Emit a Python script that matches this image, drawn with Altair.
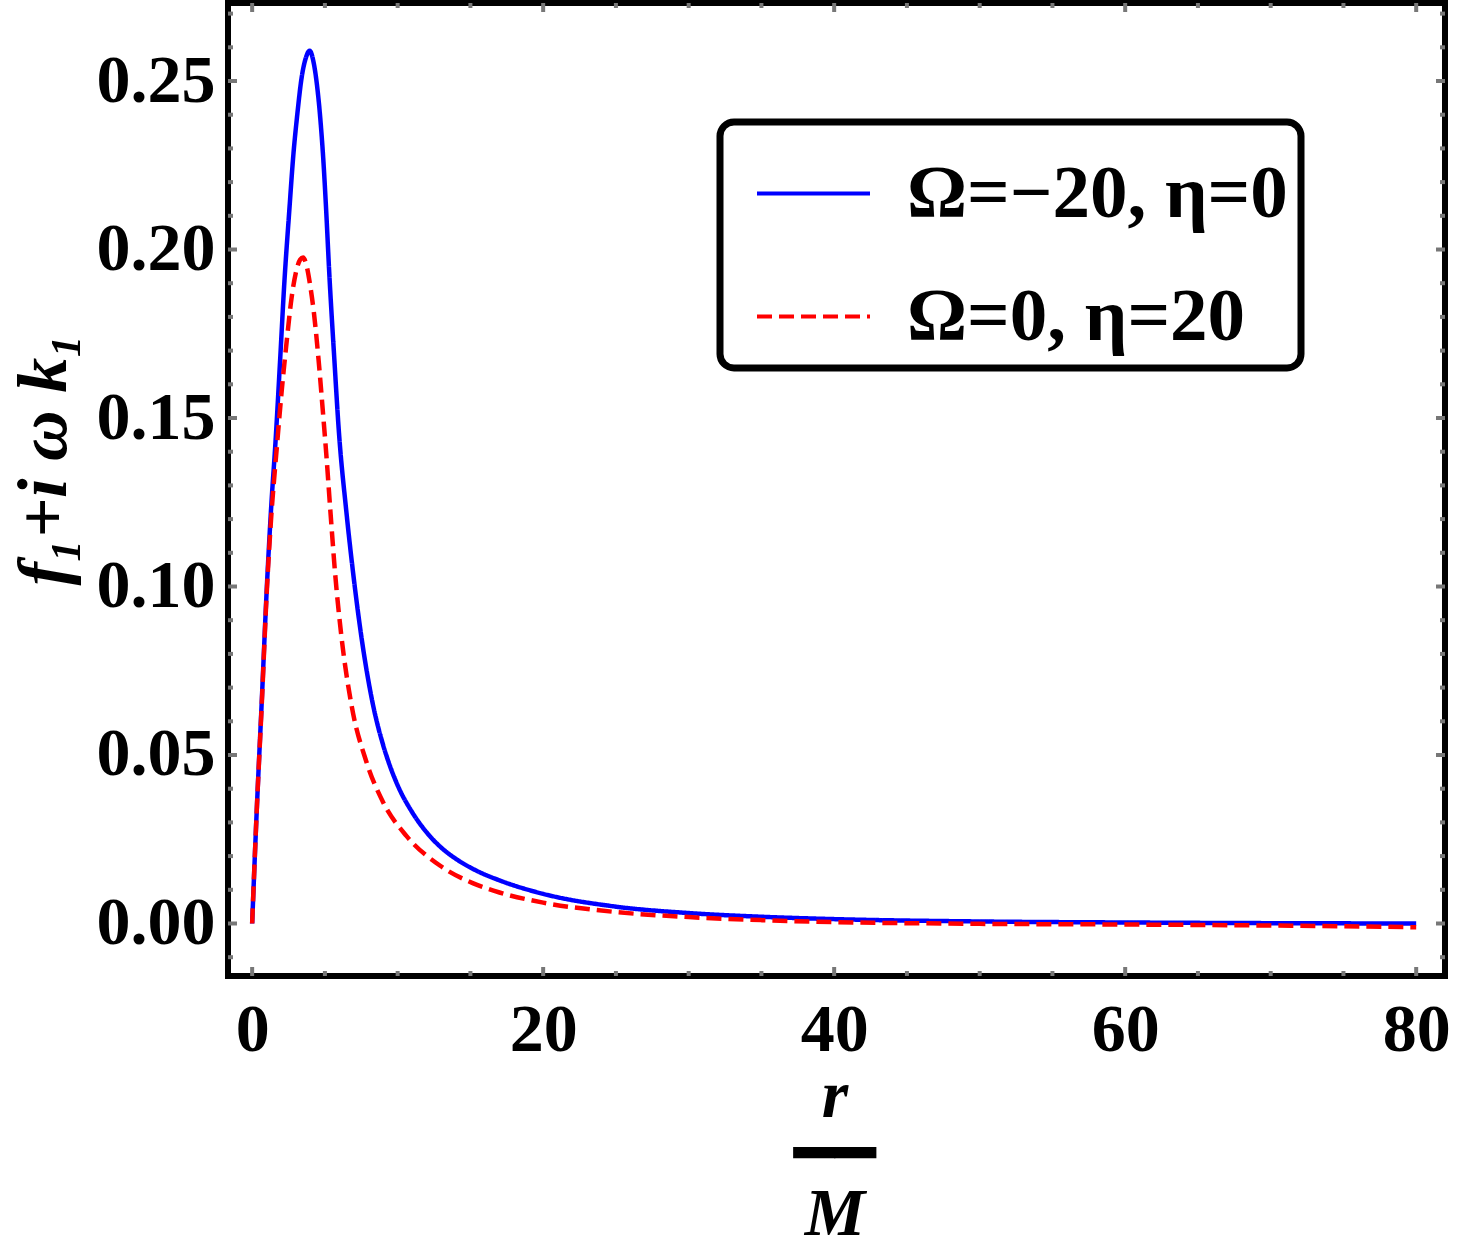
import altair as alt
import pandas as pd

# r/M samples and profile values for the two parameter sets
r_blue = [0, 0.32, 0.66, 1.0, 1.3, 1.62, 1.92, 2.21, 2.56, 2.83, 3.1, 3.4, 3.7, 3.95,
          4.2, 4.45, 4.7, 4.9, 5.07, 5.3, 5.64, 5.96, 6.48, 6.94, 7.51, 8.3, 9.0, 9.45,
          10.0, 11.0, 12.0, 13.0, 14.0, 15.5, 17, 20, 25, 30, 35, 40, 50, 60, 70, 80]
f_blue = [0, 0.034, 0.066, 0.099, 0.123, 0.144, 0.167, 0.190, 0.212, 0.228, 0.240,
          0.251, 0.257, 0.2590, 0.256, 0.249, 0.238, 0.226, 0.213, 0.193, 0.168,
          0.146, 0.122, 0.104, 0.085, 0.065, 0.053, 0.047, 0.041, 0.033, 0.027,
          0.0225, 0.0192, 0.0155, 0.0128, 0.0088, 0.0050, 0.0031, 0.0020, 0.0013,
          0.0006, 0.0003, 0.0001, 0.0]

r_red = [0, 0.32, 0.66, 1.0, 1.3, 1.69, 2.03, 2.38, 2.72, 3.05, 3.3, 3.5, 3.75, 4.0,
         4.25, 4.57, 4.84, 5.1, 5.4, 5.7, 6.14, 6.82, 7.85, 9.0, 10.6, 12.9, 15.2,
         17, 20, 25, 30, 35, 40, 45, 50, 60, 70, 80]
f_red = [0, 0.034, 0.065, 0.098, 0.120, 0.141, 0.158, 0.173, 0.186, 0.194, 0.1970,
         0.1976, 0.195, 0.189, 0.181, 0.167, 0.153, 0.139, 0.121, 0.104, 0.085,
         0.065, 0.048, 0.036, 0.026, 0.0172, 0.0119, 0.0092, 0.0062, 0.0034,
         0.0019, 0.0010, 0.0004, 0.0001, -0.0001, -0.0003, -0.0006, -0.0011]

series_names = ["Ω=−20, η=0", "Ω=0, η=20"]
series_colors = ["#0000ff", "#ff0000"]

x_major = [0, 20, 40, 60, 80]
x_minor = [5, 10, 15, 25, 30, 35, 45, 50, 55, 65, 70, 75]
y_major = [0.0, 0.05, 0.10, 0.15, 0.20, 0.25]
y_minor = [-0.01, 0.01, 0.02, 0.03, 0.04, 0.06, 0.07, 0.08, 0.09, 0.11, 0.12,
           0.13, 0.14, 0.16, 0.17, 0.18, 0.19, 0.21, 0.22, 0.23, 0.24, 0.26, 0.27]

W, H = 1217, 973
FONT = "Liberation Serif, DejaVu Serif, DejaVu Sans"
TICK_COLOR = "#777777"

curves = pd.concat([
    pd.DataFrame({"r": r_blue, "f": f_blue, "series": series_names[0]}),
    pd.DataFrame({"r": r_red, "f": f_red, "series": series_names[1]}),
])

xs = alt.Scale(domain=[-1.66, 81.98], nice=False, zero=False)
ys = alt.Scale(domain=[-0.01558, 0.27315], nice=False, zero=False)

x_axis = alt.Axis(
    values=x_major, format="d", grid=False, domain=False, ticks=False, tickSize=0,
    labelFont=FONT, labelFontSize=68, labelFontWeight="bold", labelColor="black",
    labelBaseline="alphabetic", labelPadding=74, labelFlush=False,
    title=["r", "━━", "M"], titleFont=FONT, titleFontSize=68, titleFontWeight="bold",
    titleFontStyle="italic", titleColor="black", titleBaseline="alphabetic",
    titleLineHeight=59, titleY=140, titleX=W / 2 - 2,
)
y_axis = alt.Axis(
    values=y_major, format=".2f", grid=False, domain=False, ticks=False, tickSize=0,
    labelFont=FONT, labelFontSize=68, labelFontWeight="bold", labelColor="black",
    labelBaseline="middle", labelPadding=13, labelFlush=False,
    title="f₁+i ω k₁", titleFont=FONT, titleFontSize=70, titleFontWeight="bold",
    titleFontStyle="italic", titleColor="black", titleAngle=270,
    titleBaseline="alphabetic", titleAlign="center", titleX=-163, titleY=456,
)

legend = alt.Legend(
    title=None, orient="none", legendX=492, legendY=119, direction="vertical",
    labelFont=FONT, labelFontSize=75, labelFontWeight="bold", labelColor="black",
    labelLimit=0, labelOffset=35, symbolType="stroke", symbolSize=12769,
    symbolStrokeWidth=4, symbolOffset=22, rowPadding=26, padding=13,
    strokeColor="black", fillColor="white", cornerRadius=14,
)

lines = alt.Chart(curves).mark_line(strokeWidth=4.5, interpolate="monotone", clip=True).encode(
    x=alt.X("r:Q", scale=xs, axis=x_axis),
    y=alt.Y("f:Q", scale=ys, axis=y_axis),
    color=alt.Color("series:N", scale=alt.Scale(domain=series_names, range=series_colors),
                    legend=legend),
    strokeDash=alt.StrokeDash("series:N",
                              scale=alt.Scale(domain=series_names, range=[[1, 0], [15, 7]]),
                              legend=legend),
)


def frame_ticks(values, length, horizontal):
    """Short inward ticks on both opposite sides of the frame."""
    d = pd.DataFrame({"v": values})
    base = alt.Chart(d).mark_rule(color=TICK_COLOR, strokeWidth=4)
    if horizontal:
        near = base.encode(x=alt.X("v:Q", scale=xs, axis=x_axis),
                           y=alt.value(H), y2=alt.value(H - length))
        far = base.encode(x=alt.X("v:Q", scale=xs, axis=x_axis),
                          y=alt.value(0), y2=alt.value(length))
    else:
        near = base.encode(y=alt.Y("v:Q", scale=ys, axis=y_axis),
                           x=alt.value(0), x2=alt.value(length))
        far = base.encode(y=alt.Y("v:Q", scale=ys, axis=y_axis),
                          x=alt.value(W), x2=alt.value(W - length))
    return [near, far]


tick_layers = (frame_ticks(x_major, 9, True) + frame_ticks(x_minor, 5, True)
               + frame_ticks(y_major, 9, False) + frame_ticks(y_minor, 5, False))

chart = alt.layer(lines, *tick_layers).properties(
    width=W, height=H,
    autosize=alt.AutoSizeParams(type="none"),
    padding={"left": 228, "top": 3, "right": 14, "bottom": 272},
).configure_view(
    stroke="black", strokeWidth=6,
).configure_legend(
    strokeWidth=7,
)

chart.save("out.html", embed_options={"renderer": "svg", "actions": False})
